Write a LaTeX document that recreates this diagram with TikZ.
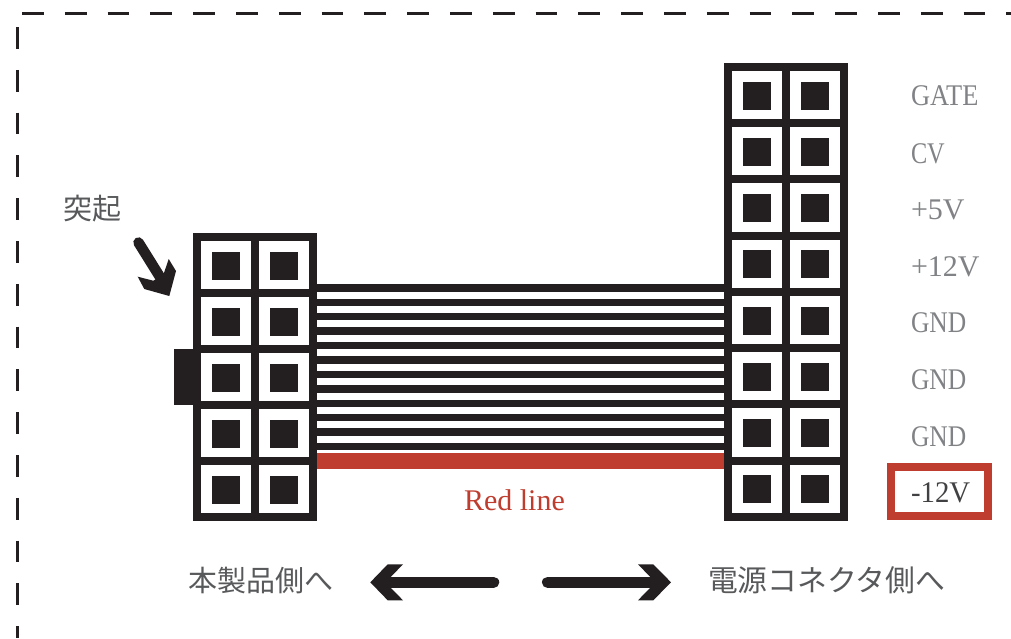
\documentclass[tikz,border=0pt]{standalone}
\usepackage{fontspec}
\setmainfont{Liberation Serif}
\newfontfamily\gatefont[FakeStretch=0.88]{Liberation Serif}
\newfontfamily\gndfont[FakeStretch=0.85]{Liberation Serif}
\newfontfamily\cvfont[FakeStretch=0.81]{Liberation Serif}
\newfontfamily\minusfont[FakeStretch=0.96]{Liberation Serif}
\newfontfamily\jpfont{Noto Sans CJK JP}
\definecolor{ink}{HTML}{231F20}
\definecolor{redline}{HTML}{BE3D2F}
\definecolor{graytext}{HTML}{808285}
\definecolor{darktext}{HTML}{414042}
\definecolor{jptext}{HTML}{58595B}
\tikzset{
  cellbox/.style={draw=ink,line width=8pt,fill=white,rectangle,outer sep=0pt,inner sep=0pt,minimum width=58pt,minimum height=56.25pt},
  pinbox/.style={fill=ink,rectangle,outer sep=0pt,inner sep=0pt,minimum width=28pt,minimum height=28pt},
  wire/.style={draw=ink,line width=7.5pt},
  redwire/.style={draw=redline,line width=16pt},
  border/.style={draw=ink,line width=2.6pt,dash pattern=on 21.7pt off 21.1pt},
  sig/.style={anchor=base west,inner sep=0pt,outer sep=0pt,text=graytext,font=\fontsize{30}{36}\selectfont},
  jp/.style={anchor=base west,inner sep=0pt,outer sep=0pt,text=jptext,font=\jpfont\fontsize{29}{35}\selectfont},
  bigarrow/.style={draw=ink,line width=11.3pt,line cap=round},
}
\begin{document}
\begin{tikzpicture}[x=1pt,y=-1pt]
\useasboundingbox (0,0) rectangle (1011,638);
% dashed border
\coordinate (bt1) at (22,13.5);
\coordinate (bt2) at (1011,13.5);
\coordinate (bl1) at (17.2,27);
\coordinate (bl2) at (17.2,638);
\draw[border] (bt1) -- (bt2);
\draw[border] (bl1) -- (bl2);
% ribbon wires
\foreach \k/\y in {1/287.8,2/302.3,3/316.7,4/331,5/345.5,6/359.8,7/374.5,8/389,9/403.5,10/417.7,11/432,12/446.7}{
  \coordinate (wl\k) at (315,\y);
  \coordinate (wr\k) at (726,\y);
  \draw[wire] (wl\k) -- (wr\k);
}
\coordinate (wlr) at (315,460.7);
\coordinate (wrr) at (726,460.7);
\draw[redwire] (wlr) -- (wrr);
% key bump
\node[fill=ink,rectangle,outer sep=0pt,inner sep=0pt,minimum width=20pt,minimum height=56pt] (bump) at (184,377.3) {};
% left connector
\foreach \r/\y in {1/265,2/321,3/377,4/433,5/489}{
  \foreach \c/\x in {1/226,2/284}{
    \node[cellbox] (L\r\c) at (\x,\y) {};
    \node[pinbox] (LP\r\c) at (\x,\y+1) {};
  }
}
% right connector
\foreach \r/\y in {1/95,2/151.25,3/207.5,4/263.75,5/320,6/376.25,7/432.5,8/488.75}{
  \foreach \c/\x in {1/757,2/815}{
    \node[cellbox] (R\r\c) at (\x,\y) {};
    \node[pinbox] (RP\r\c) at (\x,\y+0.5) {};
  }
}
% signal labels
\node[sig] (gate) at (911,105.7) {\gatefont GATE};
\node[sig] (cv) at (911,163) {\cvfont CV};
\node[sig] (p5) at (911,219) {+5V};
\node[sig] (p12) at (911,276.7) {+12V};
\node[sig] (gnda) at (911,332.7) {\gndfont GND};
\node[sig] (gndb) at (911,389) {\gndfont GND};
\node[sig] (gndc) at (911,446.7) {\gndfont GND};
\node[draw=redline,line width=8pt,rectangle,outer sep=0pt,inner sep=0pt,minimum width=97pt,minimum height=48.7pt] (box) at (939.4,491.7) {};
\node[sig,text=darktext] (m12) at (911,502.7) {\minusfont -12V};
\node[sig,text=redline] (red) at (464,510) {Red line};
% japanese labels
\node[jp] (tokki) at (63,219.5) {突起};
\node[jp] (toprod) at (188,591) {本製品側へ};
\node[jp,font=\jpfont\fontsize{29.8}{35}\selectfont] (toconn) at (708,591) {電源コネクタ側へ};
% bump pointer
\coordinate (pa) at (138.5,242.5);
\coordinate (pb) at (165,285);
\draw[draw=ink,line width=10.5pt,line cap=round] (pa) -- (pb);
\fill[ink] (137.7,276.7) -- (153.3,280.7) -- (163.3,275) -- (168.7,259) -- (176,271) -- (169.3,296) -- (144.3,289) -- cycle;
% direction arrows
\coordinate (al1) at (493.6,582.3);
\coordinate (al2) at (384,582.3);
\coordinate (ar1) at (547.6,582.3);
\coordinate (ar2) at (657,582.3);
\draw[bigarrow] (al1) -- (al2);
\fill[ink] (370.3,582.3) -- (387.7,564.3) -- (403,564.3) -- (391,576.7) -- (391,588) -- (403,600.3) -- (387.7,600.3) -- cycle;
\draw[bigarrow] (ar1) -- (ar2);
\fill[ink] (671,582.3) -- (653.3,564.3) -- (638,564.3) -- (650,576.7) -- (650,588) -- (638,600.3) -- (653.3,600.3) -- cycle;
\end{tikzpicture}
\end{document}
